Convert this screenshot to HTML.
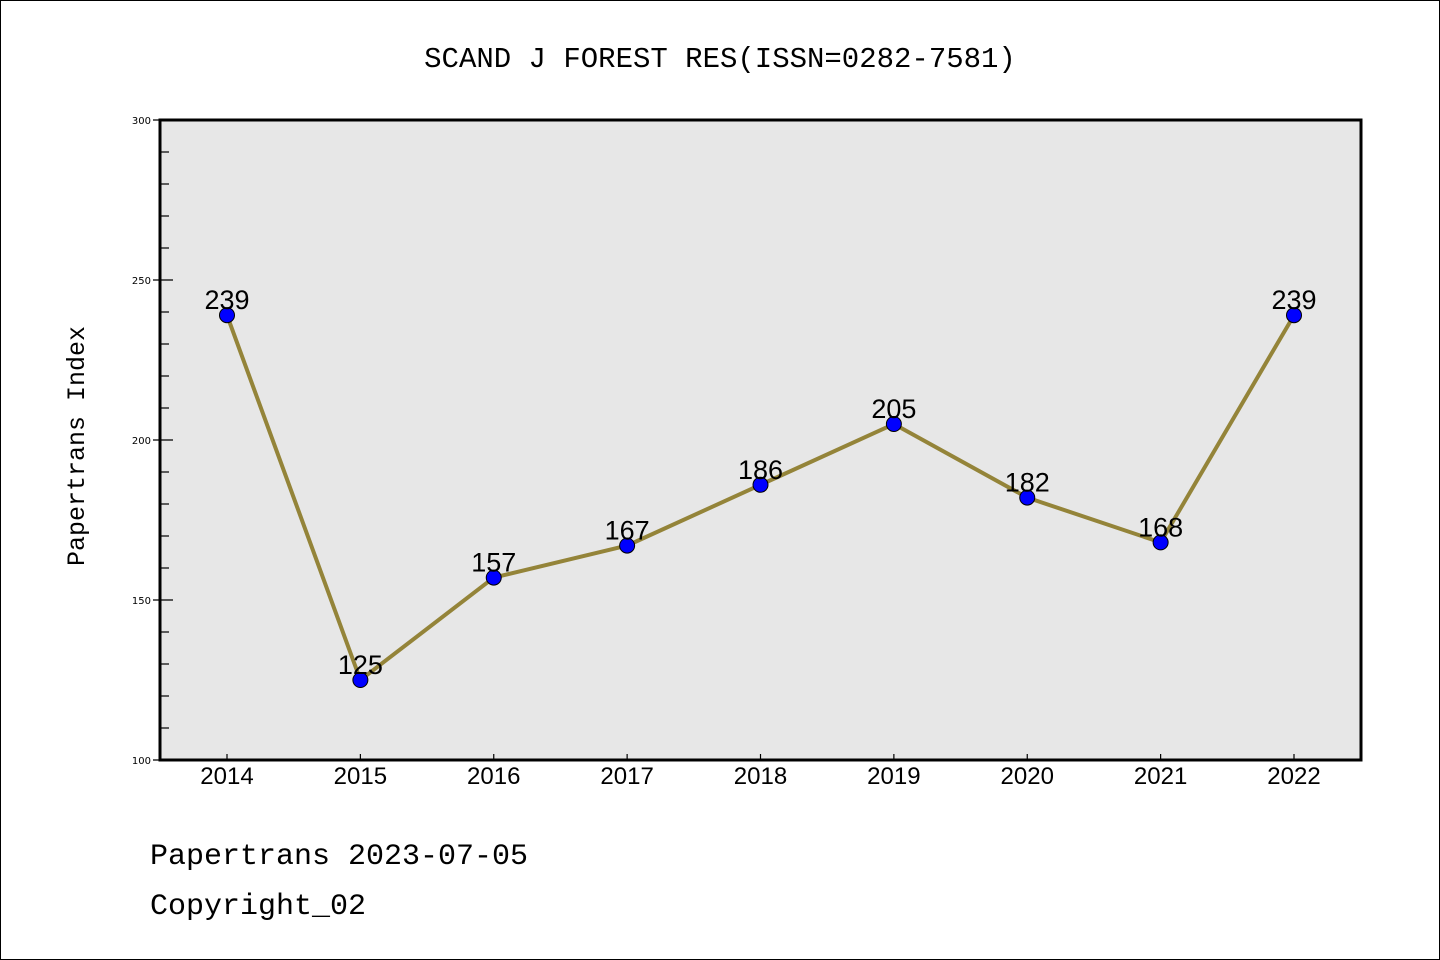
<!DOCTYPE html>
<html><head><meta charset="utf-8"><style>
html,body{margin:0;padding:0;background:#fff;}
svg{display:block;}
</style></head><body>
<svg id="chart" width="1440" height="960" xmlns="http://www.w3.org/2000/svg">
<rect x="0.5" y="0.5" width="1439" height="959" fill="#fff" stroke="#000" stroke-width="1"/>
<text x="720" y="67" text-anchor="middle" font-family="Liberation Mono, monospace" font-size="29">SCAND J FOREST RES(ISSN=0282-7581)</text>
<rect x="160" y="120" width="1201" height="640" fill="#e7e7e7"/>
<g id="axes"></g>
<g id="series"></g>
<rect x="160" y="120" width="1201" height="640" fill="none" stroke="#000" stroke-width="3"/>
<text transform="translate(84,446) rotate(-90)" text-anchor="middle" font-family="Liberation Mono, monospace" font-size="25">Papertrans Index</text>
<text x="150" y="864" font-family="Liberation Mono, monospace" font-size="30">Papertrans 2023-07-05</text>
<text x="150" y="914" font-family="Liberation Mono, monospace" font-size="30">Copyright_02</text>
</svg>
<script>
const years = [2014,2015,2016,2017,2018,2019,2020,2021,2022];
const values = [239,125,157,167,186,205,182,168,239];
const yTicks = [100,150,200,250,300];
const yMin = 100, yMax = 300;
const NS = 'http://www.w3.org/2000/svg';
const xStart = 227, xEnd = 1294, yTop = 120, yBottom = 760;
function xs(i){ return xStart + (xEnd - xStart) * i / (years.length - 1); }
function ys(v){ return yBottom - (v - yMin) / (yMax - yMin) * (yBottom - yTop); }
function mk(tag, attrs, parent){ const e = document.createElementNS(NS, tag); for (const k in attrs) e.setAttribute(k, attrs[k]); parent.appendChild(e); return e; }
const axes = document.getElementById('axes');
const series = document.getElementById('series');
for (let v = yMin; v <= yMax; v += 10) {
  const major = yTicks.includes(v);
  const t = mk('line', {x1: major ? 153 : 160, x2: major ? 173 : 169, y1: ys(v), y2: ys(v), stroke: '#000', 'stroke-width': 1.2}, axes);
  
  
}
yTicks.forEach(v => {
  const t = mk('text', {x: 151, y: ys(v) + 4, 'text-anchor': 'end', 'font-family': 'DejaVu Sans, sans-serif', 'font-size': 10}, axes);
  t.textContent = v;
  
  
});
years.forEach((y, i) => {
  const t = mk('line', {x1: xs(i), x2: xs(i), y1: yBottom, y2: yBottom - 6, stroke: '#000', 'stroke-width': 1.2}, axes);
  
  
  const l = mk('text', {x: xs(i), y: 784, 'text-anchor': 'middle', 'font-family': 'Liberation Sans, sans-serif', 'font-size': 24}, axes);
  l.textContent = y;
  
  
});
const pts = values.map((v, i) => xs(i) + ',' + ys(v)).join(' ');
const line = mk('polyline', {points: pts, fill: 'none', stroke: '#948439', 'stroke-width': 4, 'stroke-linejoin': 'round'}, series);


values.forEach((v, i) => {
  const c = mk('circle', {cx: xs(i), cy: ys(v), r: 7.5, fill: '#0000ff', stroke: '#000', 'stroke-width': 1}, series);
  
  
  const t = mk('text', {x: xs(i), y: ys(v) - 6, 'text-anchor': 'middle', 'font-family': 'Liberation Sans, sans-serif', 'font-size': 27}, series);
  t.textContent = v;
  
  
});
</script>
</body></html>
